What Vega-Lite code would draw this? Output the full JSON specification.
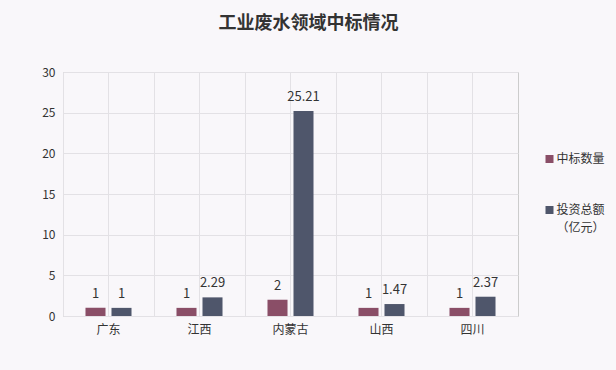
{
  "$schema": "https://vega.github.io/schema/vega-lite/v6.json",
  "width": 455,
  "height": 244,
  "autosize": {"type": "none"},
  "padding": {"left": 63, "top": 72, "right": 98, "bottom": 54},
  "background": "#F9F7FA",
  "title": {
    "text": "工业废水领域中标情况",
    "fontSize": 18,
    "fontWeight": "bold",
    "color": "#333333",
    "font": "Noto Sans CJK SC",
    "anchor": "middle",
    "dx": 18,
    "offset": 33
  },
  "data": {
    "values": [
      {"region": "广东", "series": "中标数量", "value": 1},
      {"region": "广东", "series": "投资总额（亿元）", "value": 1},
      {"region": "江西", "series": "中标数量", "value": 1},
      {"region": "江西", "series": "投资总额（亿元）", "value": 2.29},
      {"region": "内蒙古", "series": "中标数量", "value": 2},
      {"region": "内蒙古", "series": "投资总额（亿元）", "value": 25.21},
      {"region": "山西", "series": "中标数量", "value": 1},
      {"region": "山西", "series": "投资总额（亿元）", "value": 1.47},
      {"region": "四川", "series": "中标数量", "value": 1},
      {"region": "四川", "series": "投资总额（亿元）", "value": 2.37}
    ]
  },
  "encoding": {
    "x": {
      "field": "region",
      "type": "nominal",
      "sort": ["广东", "江西", "内蒙古", "山西", "四川"],
      "scale": {"paddingInner": 0, "paddingOuter": 0},
      "axis": {
        "title": null,
        "labelAngle": 0,
        "ticks": false,
        "domain": false,
        "grid": true,
        "bandPosition": 0,
        "gridColor": "#e3e1e5",
        "labelFontSize": 12,
        "labelColor": "#333333",
        "labelPadding": 8
      }
    }
  },
  "layer": [
    {
      "mark": {"type": "rule", "color": "#e3e1e5", "strokeWidth": 1},
      "encoding": {}
    },
    {
      "mark": {"type": "bar"},
      "encoding": {
        "xOffset": {
          "field": "series",
          "type": "nominal",
          "sort": ["中标数量", "投资总额（亿元）"],
          "scale": {"paddingInner": 0.23, "paddingOuter": 0.865}
        },
        "y": {
          "field": "value",
          "type": "quantitative",
          "scale": {"domain": [0, 30], "nice": false},
          "axis": {
            "title": null,
            "values": [0, 5, 10, 15, 20, 25, 30],
            "ticks": false,
            "domain": false,
            "gridColor": "#e3e1e5",
            "labelFontSize": 12,
            "labelColor": "#333333",
            "labelPadding": 8
          }
        },
        "color": {
          "field": "series",
          "type": "nominal",
          "scale": {
            "domain": ["中标数量", "投资总额（亿元）"],
            "range": ["#8A4E67", "#4F566B"]
          },
          "legend": {
            "title": null,
            "orient": "none",
            "legendX": 480.5,
            "legendY": 81,
            "padding": 0,
            "symbolType": "square",
            "symbolSize": 64,
            "symbolStrokeWidth": 0,
            "labelFontSize": 12,
            "labelColor": "#333333",
            "labelOffset": 1,
            "labelBaseline": "alphabetic",
            "rowPadding": 39,
            "labelExpr": "datum.label == '投资总额（亿元）' ? ['投资总额', '（亿元）'] : datum.label",
            "encode": {
              "labels": {"update": {"dy": {"value": 4}, "lineHeight": {"value": 18}}}
            }
          }
        }
      }
    },
    {
      "mark": {"type": "text", "baseline": "bottom", "dy": -7, "fontSize": 13, "color": "#333333"},
      "encoding": {
        "xOffset": {
          "field": "series",
          "type": "nominal",
          "sort": ["中标数量", "投资总额（亿元）"],
          "scale": {"paddingInner": 0.23, "paddingOuter": 0.865}
        },
        "y": {"field": "value", "type": "quantitative"},
        "text": {"field": "value", "type": "quantitative", "format": "~g"}
      }
    }
  ],
  "config": {
    "font": "Noto Sans CJK SC",
    "view": {"stroke": "#cccccc"},
    "axis": {"labelFont": "Noto Sans CJK SC"},
    "legend": {"labelFont": "Noto Sans CJK SC"}
  }
}
